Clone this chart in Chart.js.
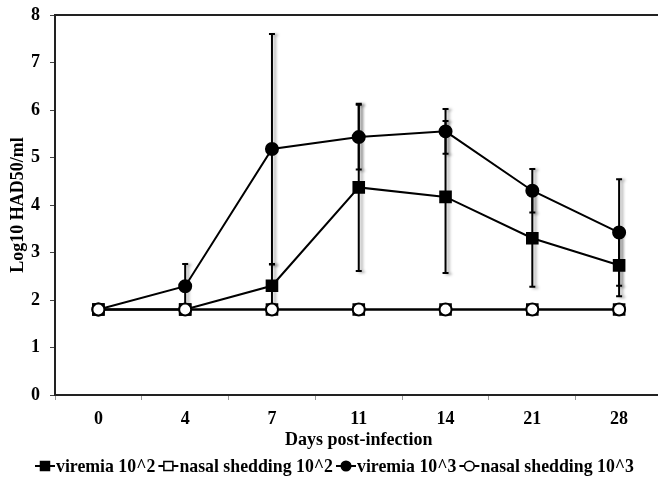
<!DOCTYPE html>
<html>
<head>
<meta charset="utf-8">
<script src="https://cdn.jsdelivr.net/npm/chart.js@4/dist/chart.umd.min.js"></script>
<style>
  html, body { margin: 0; padding: 0; background: #fff; overflow: hidden; }
  #contenedor { width: 672px; height: 486px; }
</style>
</head>
<body>
<div id="contenedor"><canvas id="miGrafica"></canvas></div>
<script>
// Datos
const dias = ['0', '4', '7', '11', '14', '21', '28'];
const viremia2 = [1.8, 1.8, 2.3, 4.37, 4.17, 3.3, 2.73];
const errViremia2 = [0, 0, 0.45, 1.76, 1.6, 1.02, 0.65];
const nasal2 = [1.8, 1.8, 1.8, 1.8, 1.8, 1.8, 1.8];
const viremia3 = [1.8, 2.29, 5.18, 5.43, 5.55, 4.3, 3.42];
const errViremia3 = [0, 0.47, 2.42, 0.68, 0.47, 0.46, 1.12];
const nasal3 = [1.8, 1.8, 1.8, 1.8, 1.8, 1.8, 1.8];
const ticksY = [0, 1, 2, 3, 4, 5, 6, 7, 8];

const fuente = '"Liberation Serif", "Times New Roman", serif';

const series = [
  { label: 'viremia 10^2', data: viremia2, estilo: 'rect', relleno: '#000', orden: 4 },
  { label: 'nasal shedding 10^2', data: nasal2, estilo: 'rect', relleno: '#fff', orden: 2 },
  { label: 'viremia 10^3', data: viremia3, estilo: 'circle', relleno: '#000', orden: 3 },
  { label: 'nasal shedding 10^3', data: nasal3, estilo: 'circle', relleno: '#fff', orden: 1 }
];

// Barras de error con sombra gris
const barrasError = {
  id: 'barrasError',
  beforeDatasetsDraw(chart) {
    const ctx = chart.ctx, sx = chart.scales.x, sy = chart.scales.y;
    ctx.save();
    ctx.strokeStyle = '#000';
    ctx.lineWidth = 2;
    ctx.shadowColor = 'rgba(0,0,0,0.35)';
    ctx.shadowOffsetX = 3;
    ctx.shadowOffsetY = 1;
    ctx.shadowBlur = 3;
    [[viremia2, errViremia2], [viremia3, errViremia3]].forEach(([vals, errs]) => {
      vals.forEach((v, i) => {
        if (!errs[i]) return;
        const px = sx.getPixelForValue(i);
        const arriba = sy.getPixelForValue(v + errs[i]);
        const abajo = sy.getPixelForValue(v - errs[i]);
        ctx.beginPath();
        ctx.moveTo(px, arriba); ctx.lineTo(px, abajo);
        ctx.moveTo(px - 3, arriba); ctx.lineTo(px + 3, arriba);
        ctx.moveTo(px - 3, abajo); ctx.lineTo(px + 3, abajo);
        ctx.stroke();
      });
    });
    ctx.restore();
  }
};

// Borde superior y leyenda con linea + marcador
const bordeYLeyenda = {
  id: 'bordeYLeyenda',
  afterDraw(chart) {
    const ctx = chart.ctx, area = chart.chartArea;
    ctx.save();
    ctx.strokeStyle = '#222';
    ctx.lineWidth = 2;
    ctx.beginPath();
    ctx.moveTo(area.left - 1, area.top);
    ctx.lineTo(chart.width, area.top);
    ctx.stroke();

    ctx.font = 'bold 17.8px ' + fuente;
    ctx.textBaseline = 'middle';
    const anchoSimbolo = 20, hueco = 3;
    let total = 0;
    series.forEach(s => { total += anchoSimbolo + 1 + ctx.measureText(s.label).width + hueco; });
    let x = chart.width / 2 - total / 2;
    const y = 466;
    series.forEach(s => {
      ctx.strokeStyle = '#000';
      ctx.lineWidth = 2;
      ctx.beginPath();
      ctx.moveTo(x, y); ctx.lineTo(x + anchoSimbolo, y);
      ctx.stroke();
      const cx = x + anchoSimbolo / 2;
      ctx.fillStyle = s.relleno;
      ctx.lineWidth = 1.5;
      ctx.beginPath();
      if (s.estilo === 'rect') ctx.rect(cx - 4.5, y - 4.5, 9, 9);
      else ctx.arc(cx, y, 4.8, 0, Math.PI * 2);
      ctx.fill();
      ctx.stroke();
      ctx.fillStyle = '#000';
      ctx.fillText(s.label, x + anchoSimbolo + 1, y + 1);
      x += anchoSimbolo + 1 + ctx.measureText(s.label).width + hueco;
    });
    ctx.restore();
  }
};

function crearGrafica() {
  const ctx = document.getElementById('miGrafica').getContext('2d');
  return new Chart(ctx, {
    type: 'line',
    data: {
      labels: dias,
      datasets: series.map(s => ({
        label: s.label,
        data: s.data,
        order: s.orden,
        borderColor: '#000',
        borderWidth: 2,
        backgroundColor: s.relleno,
        pointStyle: s.estilo,
        pointRadius: s.estilo === 'rect' ? 7.5 : 6,
        pointBorderWidth: 2,
        pointBorderColor: '#000',
        pointBackgroundColor: s.relleno,
        tension: 0
      }))
    },
    options: {
      responsive: true,
      maintainAspectRatio: false,
      animation: false,
      layout: { padding: { top: 15, right: 8, bottom: 35, left: 0 } },
      plugins: { legend: { display: false }, tooltip: { enabled: false } },
      scales: {
        x: {
          type: 'category',
          offset: true,
          afterFit: s => { s.height = 56; s.paddingLeft = 0; s.paddingRight = 0; },
          border: { color: '#222', width: 2 },
          grid: { drawOnChartArea: false, drawTicks: true, tickLength: 5, offset: true, color: '#999' },
          ticks: { color: '#000', padding: 9, font: { family: fuente, size: 18, weight: 'bold' } },
          title: { display: true, text: 'Days post-infection', color: '#000', padding: 0,
                   font: { family: fuente, size: 18, weight: 'bold' } }
        },
        y: {
          min: 0,
          max: 8,
          afterFit: s => { s.width = 55; s.paddingTop = 0; s.paddingBottom = 0; },
          afterBuildTicks: s => { s.ticks = ticksY.map(v => ({ value: v })); },
          border: { color: '#222', width: 2 },
          grid: { drawOnChartArea: false, drawTicks: true, tickLength: 5, color: '#444' },
          ticks: { color: '#000', padding: 10, font: { family: fuente, size: 18, weight: 'bold' } },
          title: { display: true, text: 'Log10 HAD50/ml', color: '#000', padding: { top: 8, bottom: 0 },
                   font: { family: fuente, size: 18, weight: 'bold' } }
        }
      }
    },
    plugins: [barrasError, bordeYLeyenda]
  });
}

crearGrafica();
</script>
</body>
</html>
